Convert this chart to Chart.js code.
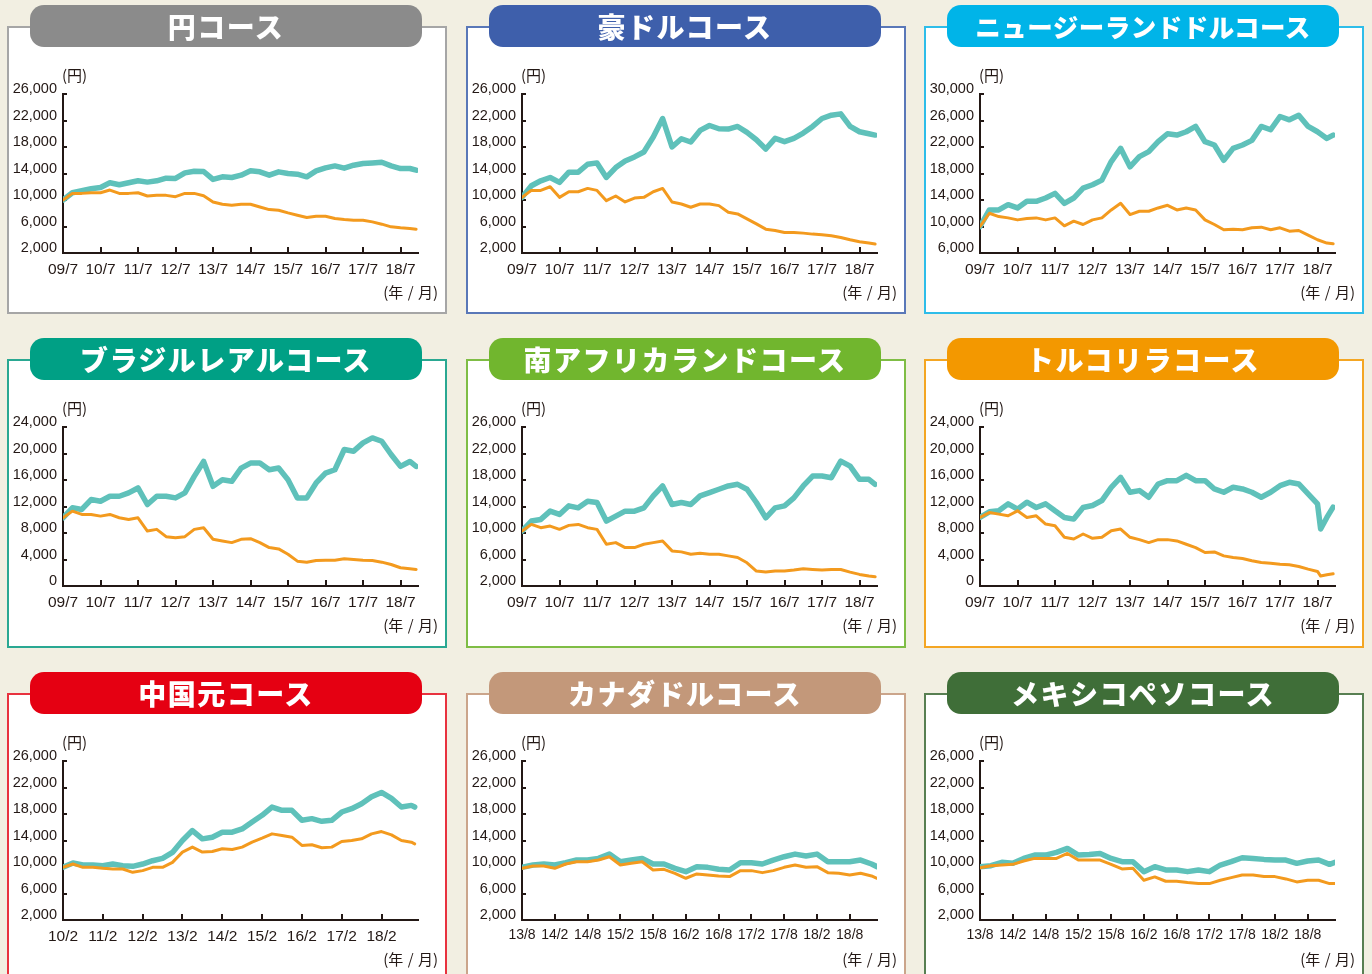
<!doctype html>
<html lang="ja">
<head>
<meta charset="utf-8">
<title>コース別 基準価額の推移</title>
<script src="https://cdn.jsdelivr.net/npm/chart.js@4.4.1/dist/chart.umd.min.js"></script>
<style>
  body { margin: 0; width: 1372px; height: 974px; overflow: hidden; position: relative;
         background: #f2efe2; font-family: "Noto Sans CJK JP", "Noto Sans", sans-serif; color: #231815; }
  .panel { position: absolute; width: 440px; background: #fff; border: 2px solid; box-sizing: border-box; }
  .panel canvas { position: absolute; left: -2px; top: -2px; }
  .pill { position: absolute; left: 21px; top: -23px; width: 392px; height: 42px; border-radius: 14px;
          color: #fff; font-weight: 900; font-size: 28px; letter-spacing: 1.5px; line-height: 42px; text-align: center; }
  .pill.tight { font-size: 25.5px; letter-spacing: 0.5px; }
  .unit { position: absolute; left: 53px; top: 36px; font-size: 15px; }
  .xunit { position: absolute; right: 7px; top: 253px; font-size: 15px; word-spacing: 1px; }
</style>
</head>
<body>
<div id="page"></div>

<script>
// ---- tick labels ----
const labels09 = ['09/7','10/7','11/7','12/7','13/7','14/7','15/7','16/7','17/7','18/7'];
const labels10 = ['10/2','11/2','12/2','13/2','14/2','15/2','16/2','17/2','18/2'];
const labels13 = ['13/8','14/2','14/8','15/2','15/8','16/2','16/8','17/2','17/8','18/2','18/8'];

const yTicks2k = [2000, 6000, 10000, 14000, 18000, 22000, 26000];
const yTicks0 = [0, 4000, 8000, 12000, 16000, 20000, 24000];
const yTicks6k = [6000, 10000, 14000, 18000, 22000, 26000, 30000];

// ---- observation dates ----
const dates09 = ['09/7','09/10','10/1','10/4','10/7','10/10','11/1','11/4','11/7','11/10',
  '12/1','12/4','12/7','12/10','13/1','13/4','13/7','13/10','14/1','14/4','14/7','14/10',
  '15/1','15/4','15/7','15/10','16/1','16/4','16/7','16/10','17/1','17/4','17/7','17/10',
  '18/1','18/4','18/7','18/10','18/12'];
const datesTry = ['09/7','09/10','10/1','10/4','10/7','10/10','11/1','11/4','11/7','11/10',
  '12/1','12/4','12/7','12/10','13/1','13/4','13/7','13/10','14/1','14/4','14/7','14/10',
  '15/1','15/4','15/7','15/10','16/1','16/4','16/7','16/10','17/1','17/4','17/7','17/10',
  '18/1','18/4','18/7','18/8','18/10','18/12'];
const datesCny = ['10/2','10/5','10/8','10/11','11/2','11/5','11/8','11/11','12/2','12/5','12/8','12/11',
  '13/2','13/5','13/8','13/11','14/2','14/5','14/8','14/11','15/2','15/5','15/8','15/11',
  '16/2','16/5','16/8','16/11','17/2','17/5','17/8','17/11','18/2','18/5','18/8','18/11','18/12'];
const dates13 = ['13/8','13/10','13/12','14/2','14/4','14/6','14/8','14/10','14/12','15/2','15/4','15/6',
  '15/8','15/10','15/12','16/2','16/4','16/6','16/8','16/10','16/12','17/2','17/4','17/6',
  '17/8','17/10','17/12','18/2','18/4','18/6','18/8','18/10','18/12','19/1'];

// ---- series (teal = 分配金再投資, orange = 基準価額) ----
const jpyTeal = [10000,11100,11400,11700,11900,12600,12300,12600,12900,12700,12900,13300,13250,14100,14350,14300,13100,13500,13400,13750,14400,14250,13750,14250,14000,13900,13500,14400,14850,15150,14800,15250,15500,15600,15700,15150,14750,14750,14500];
const jpyOrange = [10000,11000,11000,11100,11100,11500,11000,11000,11100,10600,10700,10700,10500,11000,11000,10650,9700,9350,9200,9350,9350,8950,8550,8450,8050,7700,7350,7550,7550,7200,7050,6950,6950,6700,6350,5950,5800,5700,5600];

const audTeal = [10400,12150,12900,13400,12650,14200,14200,15400,15600,13400,14900,15900,16500,17250,19500,22300,18000,19250,18750,20500,21250,20750,20700,21100,20200,19100,17700,19300,18800,19300,20100,21100,22300,22800,23000,21100,20300,20000,19800];
const audOrange = [10400,11450,11450,12000,10400,11250,11250,11750,11450,9900,10600,9700,10300,10400,11250,11750,9700,9400,8900,9400,9400,9150,8150,7900,7150,6400,5600,5400,5100,5100,5000,4850,4750,4600,4350,4000,3700,3500,3350];

const nzdTeal = [10000,12500,12500,13300,12800,13800,13800,14300,15000,13500,14300,15800,16300,17000,19800,21800,19000,20550,21300,22800,24000,23800,24300,25100,22800,22300,20000,21800,22300,23000,25100,24600,26600,26100,26800,25100,24300,23300,23800];
const nzdOrange = [10000,12000,11500,11300,11000,11200,11300,11000,11300,10100,10800,10300,11000,11300,12500,13500,11800,12300,12300,12800,13200,12500,12800,12500,11000,10300,9500,9600,9500,9800,9900,9500,9800,9300,9400,8700,8000,7500,7400];

const brlTeal = [10300,11800,11550,13050,12800,13550,13550,14050,14800,12300,13550,13550,13300,14050,16550,18800,15050,16050,15800,17800,18550,18550,17550,17800,16050,13300,13300,15550,17050,17550,20600,20350,21600,22350,21850,19850,18050,18800,18050];
const brlOrange = [10300,11300,10800,10800,10550,10800,10300,10050,10300,8300,8550,7450,7300,7450,8550,8800,7050,6800,6550,7050,7150,6550,5800,5600,4800,3750,3600,3850,3900,3900,4100,4000,3900,3850,3600,3250,2750,2600,2500];

const zarTeal = [10300,11800,12050,13300,12800,14100,13800,14800,14600,11800,12550,13300,13300,13800,15600,17100,14300,14600,14300,15600,16100,16600,17100,17350,16600,14600,12300,13800,14100,15300,17100,18600,18600,18350,20850,20100,18100,18100,17350];
const zarOrange = [10300,11300,10800,11050,10550,11150,11300,10800,10550,8300,8550,7800,7800,8300,8550,8800,7300,7150,6800,6950,6800,6800,6550,6300,5500,4250,4100,4250,4250,4400,4600,4500,4400,4500,4500,4100,3750,3500,3400];

const tryTeal = [10350,11200,11350,12400,11600,12650,11850,12400,11350,10350,10100,11850,12150,12900,14900,16400,14150,14400,13400,15400,15900,15900,16700,15900,15900,14650,14150,14900,14650,14150,13400,14150,15150,15650,15400,13900,12400,8600,10350,11900];
const tryOrange = [10350,11100,10850,10600,11350,10350,10600,9350,9100,7350,7100,7850,7200,7350,8350,8600,7350,7000,6550,7000,7000,6800,6300,5800,5050,5150,4550,4300,4150,3800,3550,3450,3300,3200,2950,2550,2200,1500,1700,1850];

const cnyTeal = [9950,10600,10300,10300,10200,10450,10200,10100,10450,10950,11300,12200,14000,15500,14250,14500,15250,15250,15750,16800,17800,19050,18550,18550,17050,17300,16900,17050,18300,18800,19550,20600,21250,20350,19050,19300,19050];
const cnyOrange = [9950,10450,9950,9950,9800,9700,9700,9200,9450,9950,9950,10700,12250,13000,12250,12350,12750,12650,13000,13750,14350,15000,14750,14500,13250,13350,12900,13000,13850,14000,14250,15000,15350,14850,14000,13750,13500];

const cadTeal = [9950,10300,10450,10300,10650,11050,11050,11300,11950,10800,11050,11300,10450,10450,9800,9300,10050,9950,9650,9550,10650,10650,10450,11050,11550,11950,11650,11950,10800,10800,10800,11050,10450,10050];
const cadOrange = [9800,10150,10150,9800,10450,10800,10800,11050,11550,10300,10550,10800,9550,9650,9050,8300,8950,8800,8650,8550,9450,9450,9150,9450,9950,10300,9950,10050,9150,9050,8800,9050,8650,8300];

const mxnTeal = [10050,10200,10700,10550,11300,11800,11800,12200,12800,11800,11900,12050,11300,10800,10800,9300,10050,9550,9550,9300,9550,9300,10300,10800,11400,11300,11150,11050,11050,10550,10900,11050,10400,10700];
const mxnOrange = [9900,10200,10300,10400,10900,11300,11300,11300,12050,11050,11050,11050,10400,9700,9800,8000,8500,7850,7850,7650,7500,7500,8000,8400,8800,8800,8550,8550,8200,7750,8000,8000,7500,7500];

// ---- panel table ----
const panels = [
  { title: '円コース', color: '#8b8b8b', frame: '#a6a6a6', col: 0, row: 0, dates: dates09, teal: jpyTeal, orange: jpyOrange, xLabels: labels09, yTicks: yTicks2k, xMax: 113.6 },
  { title: '豪ドルコース', color: '#3e5fab', frame: '#5a78b8', col: 1, row: 0, dates: dates09, teal: audTeal, orange: audOrange, xLabels: labels09, yTicks: yTicks2k, xMax: 113.6 },
  { title: 'ニュージーランドドルコース', color: '#00b4e8', frame: '#2ebde9', col: 2, row: 0, dates: dates09, teal: nzdTeal, orange: nzdOrange, xLabels: labels09, yTicks: yTicks6k, xMax: 113.6, tight: true },
  { title: 'ブラジルレアルコース', color: '#00a085', frame: '#2aa892', col: 0, row: 1, dates: dates09, teal: brlTeal, orange: brlOrange, xLabels: labels09, yTicks: yTicks0, xMax: 113.6 },
  { title: '南アフリカランドコース', color: '#71b62e', frame: '#7fbd45', col: 1, row: 1, dates: dates09, teal: zarTeal, orange: zarOrange, xLabels: labels09, yTicks: yTicks2k, xMax: 113.6 },
  { title: 'トルコリラコース', color: '#f39800', frame: '#f4a623', col: 2, row: 1, dates: datesTry, teal: tryTeal, orange: tryOrange, xLabels: labels09, yTicks: yTicks0, xMax: 113.6 },
  { title: '中国元コース', color: '#e50012', frame: '#e8323f', col: 0, row: 2, dates: datesCny, teal: cnyTeal, orange: cnyOrange, xLabels: labels10, yTicks: yTicks2k, xMax: 107 },
  { title: 'カナダドルコース', color: '#c3987a', frame: '#cba58b', col: 1, row: 2, dates: dates13, teal: cadTeal, orange: cadOrange, xLabels: labels13, yTicks: yTicks2k, xMax: 65, xFont: 14 },
  { title: 'メキシコペソコース', color: '#3f6e38', frame: '#587f52', col: 2, row: 2, dates: dates13, teal: mxnTeal, orange: mxnOrange, xLabels: labels13, yTicks: yTicks2k, xMax: 65, xFont: 14 }
];

const colLeft = [7, 466, 924];
const rowTop = [26, 359, 693];
const rowHeight = [288, 289, 300];
const axisColor = '#231815';

function monthIndex(s) {
  const [y, m] = s.split('/').map(Number);
  return y * 12 + m;
}

Chart.defaults.font.family = '"Liberation Sans", Arial, sans-serif';
Chart.defaults.color = '#231815';

// small tick marks drawn inside the plot, like the printed charts
const inwardTicks = {
  id: 'inwardTicks',
  beforeDatasetsDraw(chart) {
    const { ctx, chartArea, scales } = chart;
    ctx.save();
    ctx.strokeStyle = axisColor;
    ctx.lineWidth = 2;
    ctx.beginPath();
    scales.y.ticks.forEach(t => {
      const y = Math.round(scales.y.getPixelForValue(t.value));
      ctx.moveTo(chartArea.left, y);
      ctx.lineTo(chartArea.left + 4, y);
    });
    scales.x.ticks.forEach(t => {
      const x = Math.round(scales.x.getPixelForValue(t.value));
      ctx.moveTo(x, chartArea.bottom);
      ctx.lineTo(x, chartArea.bottom - 6);
    });
    ctx.stroke();
    ctx.restore();
  }
};

const page = document.getElementById('page');

panels.forEach((p, i) => {
  const box = document.createElement('div');
  box.className = 'panel';
  box.style.left = colLeft[p.col] + 'px';
  box.style.top = rowTop[p.row] + 'px';
  box.style.height = rowHeight[p.row] + 'px';
  box.style.borderColor = p.frame;
  box.innerHTML =
    '<canvas id="c' + i + '" width="440" height="260"></canvas>' +
    '<div class="pill' + (p.tight ? ' tight' : '') + '" style="background:' + p.color + '">' + p.title + '</div>' +
    '<div class="unit">(円)</div>' +
    '<div class="xunit">(年 / 月)</div>';
  page.appendChild(box);

  const base = monthIndex(p.xLabels[0]);
  const toX = s => monthIndex(s) - base;

  new Chart(document.getElementById('c' + i), {
    type: 'line',
    data: {
      datasets: [
        { data: p.dates.map((d, k) => ({ x: toX(d), y: p.orange[k] })), borderColor: '#f39a1e', borderWidth: 3 },
        { data: p.dates.map((d, k) => ({ x: toX(d), y: p.teal[k] })), borderColor: '#5fc1ba', borderWidth: 5.5 }
      ]
    },
    options: {
      responsive: false,
      animation: false,
      layout: { padding: { left: 0, top: 68, right: 29, bottom: 8 } },
      elements: {
        point: { radius: 0 },
        line: { tension: 0, borderJoinStyle: 'round', borderCapStyle: 'round' }
      },
      plugins: { legend: { display: false }, tooltip: { enabled: false } },
      scales: {
        x: {
          type: 'linear',
          min: 0,
          max: p.xMax,
          afterBuildTicks: axis => { axis.ticks = p.xLabels.map(l => ({ value: toX(l) })); },
          afterFit: axis => { axis.height = 25; },
          grid: { display: true, drawOnChartArea: false, drawTicks: false },
          border: { display: true, color: axisColor, width: 2 },
          ticks: {
            autoSkip: false, maxRotation: 0, padding: 7,
            font: { size: p.xFont || 15.5 },
            callback: (v, idx) => p.xLabels[idx]
          }
        },
        y: {
          min: p.yTicks[0],
          max: p.yTicks[p.yTicks.length - 1],
          afterBuildTicks: axis => { axis.ticks = p.yTicks.map(v => ({ value: v })); },
          afterFit: axis => { axis.width = 56; },
          grid: { display: true, drawOnChartArea: false, drawTicks: false },
          border: { display: true, color: axisColor, width: 2 },
          ticks: {
            padding: 6, labelOffset: -5,
            font: { size: 14.5 },
            callback: v => v.toLocaleString('en-US')
          }
        }
      }
    },
    plugins: [inwardTicks]
  });
});
</script>
</body>
</html>
